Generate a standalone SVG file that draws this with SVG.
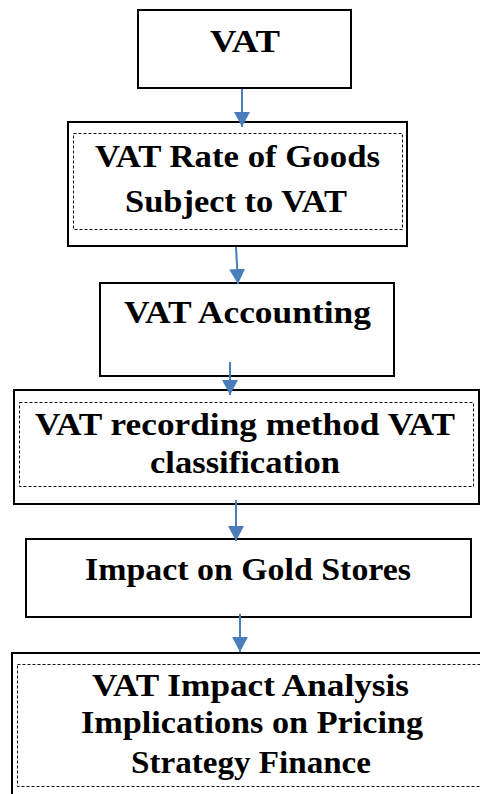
<svg xmlns="http://www.w3.org/2000/svg" width="480" height="794" viewBox="0 0 480 794">
<style>
.box{fill:#fff;stroke:#000;stroke-width:2}
.inner{fill:none;stroke:#111;stroke-width:1;stroke-dasharray:3,2}
.t{font-family:"Liberation Serif","Times New Roman",serif;font-weight:bold;font-size:32px;fill:#000}
.conn{stroke:#4a7ebb;stroke-width:2;fill:none}
</style>
<defs>
<marker id="ah" markerUnits="userSpaceOnUse" markerWidth="16" markerHeight="16" refX="15" refY="8" orient="auto" viewBox="0 0 16 16">
<path d="M0,0 L15,8 L0,16 z" fill="#4a7ebb"/>
</marker>
</defs>
<rect width="480" height="794" fill="#fff"/>
<g id="n1">
<rect class="box" x="138" y="10" width="213" height="78"/>
<text class="t" x="210" y="52" textLength="70" lengthAdjust="spacingAndGlyphs">VAT</text>
</g>
<g id="n2">
<rect class="box" x="68" y="122" width="339" height="124"/>
<rect class="inner" x="73.5" y="133.5" width="329" height="96"/>
<text class="t" x="95" y="167" textLength="285" lengthAdjust="spacingAndGlyphs">VAT Rate of Goods</text>
<text class="t" x="125" y="212" textLength="222" lengthAdjust="spacingAndGlyphs">Subject to VAT</text>
</g>
<g id="n3">
<rect class="box" x="100" y="283" width="294" height="93"/>
<text class="t" x="124" y="323" textLength="247" lengthAdjust="spacingAndGlyphs">VAT Accounting</text>
</g>
<g id="n4">
<rect class="box" x="14" y="390" width="465" height="114"/>
<rect class="inner" x="19.5" y="402.5" width="454" height="84"/>
<text class="t" x="35" y="435" textLength="420" lengthAdjust="spacingAndGlyphs">VAT recording method VAT</text>
<text class="t" x="150" y="473" textLength="190" lengthAdjust="spacingAndGlyphs">classification</text>
</g>
<g id="n5">
<rect class="box" x="26" y="539" width="445" height="78"/>
<text class="t" x="85" y="580" textLength="326" lengthAdjust="spacingAndGlyphs">Impact on Gold Stores</text>
</g>
<g id="n6">
<rect class="box" x="12" y="653" width="480" height="160"/>
<rect class="inner" x="17.5" y="664.5" width="470" height="122"/>
<text class="t" x="92" y="696" textLength="317" lengthAdjust="spacingAndGlyphs">VAT Impact Analysis</text>
<text class="t" x="81" y="733" textLength="342" lengthAdjust="spacingAndGlyphs">Implications on Pricing</text>
<text class="t" x="131" y="773" textLength="240" lengthAdjust="spacingAndGlyphs">Strategy Finance</text>
</g>
<g id="connectors">
<line class="conn" x1="242" y1="89" x2="242" y2="127" marker-end="url(#ah)"/>
<line class="conn" x1="236" y1="247" x2="238" y2="284" marker-end="url(#ah)"/>
<line class="conn" x1="230" y1="362" x2="230" y2="395" marker-end="url(#ah)"/>
<line class="conn" x1="236" y1="500" x2="236" y2="541" marker-end="url(#ah)"/>
<line class="conn" x1="240" y1="614" x2="240" y2="652" marker-end="url(#ah)"/>
</g>
</svg>
